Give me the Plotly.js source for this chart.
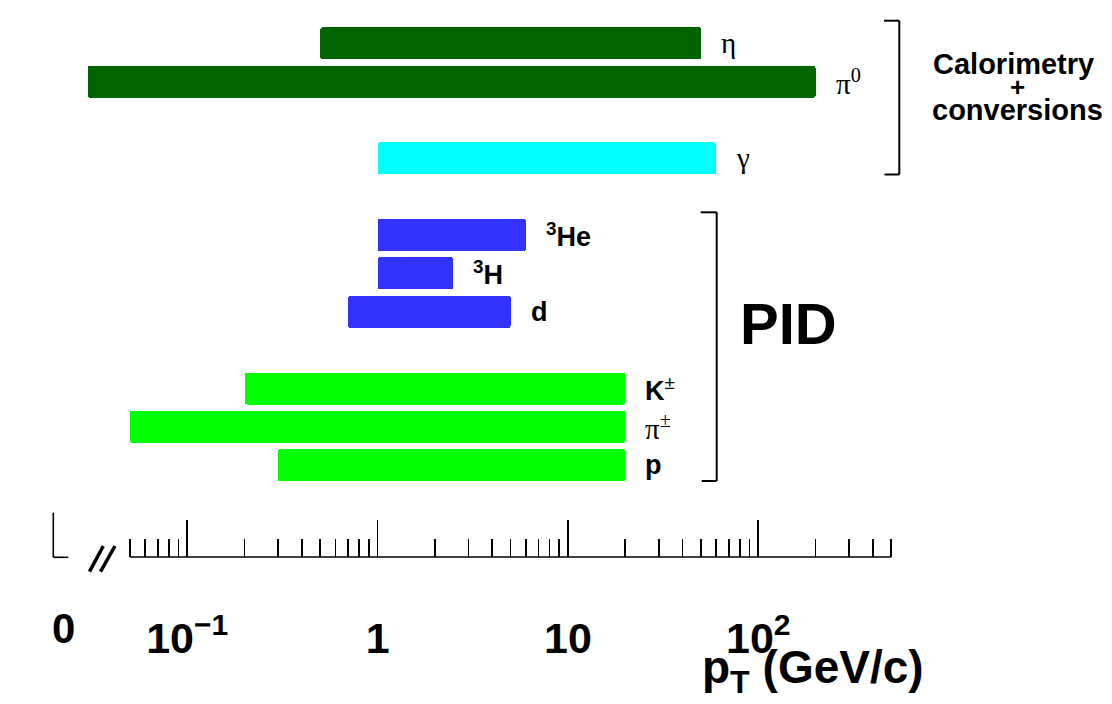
<!DOCTYPE html>
<html>
<head>
<meta charset="utf-8">
<script src="https://cdn.plot.ly/plotly-3.0.1.min.js"></script>
<style>html,body{margin:0;padding:0;background:#fff;}#chart{width:1112px;height:704px;}</style>
</head>
<body>
<div id="chart"></div>
<script>
// ---- data ----
const particles = ['η', 'π0', 'γ', '3He', '3H', 'd', 'K±', 'π±', 'p'];
const ptMin = [0.5, 0.03, 1, 1, 1, 0.7, 0.2, 0.05, 0.3];
const ptMax = [50, 200, 60, 6, 2.5, 5, 20, 20, 20];
const kind = ['meson', 'meson', 'photon', 'nucleus', 'nucleus', 'nucleus', 'hadron', 'hadron', 'hadron'];
const particleLabels = ['η', 'π<sup>0</sup>', 'γ', '<b><sup>3</sup>He</b>', '<b><sup>3</sup>H</b>', '<b>d</b>', '<b>K</b><sup>±</sup>', 'π<sup>±</sup>', '<b>p</b>'];
const rowOrder = ['η', 'π0', ' ', 'γ', '  ', '3He', '3H', 'd', '   ', 'K±', 'π±', 'p'];
const majorTickVals = [0.1, 1, 10, 100];
const majorTickText = ['10<sup>−1</sup>', '1', '10', '10<sup>2</sup>'];
const minorTickVals = [0.05, 0.06, 0.07, 0.08, 0.09,
  0.2, 0.3, 0.4, 0.5, 0.6, 0.7, 0.8, 0.9,
  2, 3, 4, 5, 6, 7, 8, 9,
  20, 30, 40, 50, 60, 70, 80, 90,
  200, 300, 400, 500];
const axisMin = 0.05, axisMax = 500;
const groupLabels = ['Calorimetry', '+', 'conversions'];
const pidLabel = 'PID';
const zeroLabel = '0';
const xTitle = '<b>p<sub>T</sub> (GeV/c)</b>';

// ---- styling ----
const colours = {meson: '#006400', photon: '#00ffff', nucleus: '#3333ff', hadron: '#00ff00'};
const SANS = 'Liberation Sans, Arial, Helvetica, sans-serif';
const SERIF = 'Liberation Serif, Times New Roman, serif';
const W = 1112, H = 704;
const M = {l: 40, r: 12, t: 24, b: 147};
const PW = W - M.l - M.r, PH = H - M.t - M.b;
const px = x => (x - M.l) / PW;
const py = y => (H - M.b - y) / PH;

const trace = {
  type: 'bar',
  orientation: 'h',
  y: particles,
  base: ptMin,
  x: ptMax.map((v, i) => v - ptMin[i]),
  width: 0.834,
  marker: {color: kind.map(k => colours[k]), line: {width: 0}, cornerradius: 2},
  hoverinfo: 'skip',
  showlegend: false
};

const greek = /^[ηπγ]/;
const annotations = particles.map((p, i) => ({
  x: Math.log10(ptMax[i]), y: p, xref: 'x', yref: 'y',
  text: particleLabels[i], showarrow: false,
  xanchor: 'left', yanchor: 'middle', xshift: 18,
  font: greek.test(particleLabels[i]) ? {family: SERIF, size: 29, color: '#000'}
                                       : {family: SANS, size: 27, color: '#000'}
}));
annotations.push(
  {x: px(1013), y: py(64), xref: 'paper', yref: 'paper', text: '<b>' + groupLabels[0] + '</b>', showarrow: false, xanchor: 'center', yanchor: 'middle', font: {family: SANS, size: 29, color: '#000'}},
  {x: px(1017), y: py(87), xref: 'paper', yref: 'paper', text: '<b>' + groupLabels[1] + '</b>', showarrow: false, xanchor: 'center', yanchor: 'middle', font: {family: SANS, size: 26, color: '#000'}},
  {x: px(1017), y: py(110), xref: 'paper', yref: 'paper', text: '<b>' + groupLabels[2] + '</b>', showarrow: false, xanchor: 'center', yanchor: 'middle', font: {family: SANS, size: 29, color: '#000'}},
  {x: px(788), y: py(323), xref: 'paper', yref: 'paper', text: '<b>' + pidLabel + '</b>', showarrow: false, xanchor: 'center', yanchor: 'middle', font: {family: SANS, size: 58, color: '#000'}},
  {x: px(63.5), y: py(628), xref: 'paper', yref: 'paper', text: '<b>' + zeroLabel + '</b>', showarrow: false, xanchor: 'center', yanchor: 'middle', font: {family: SANS, size: 42, color: '#000'}},
  {x: px(700), y: py(670), xref: 'paper', yref: 'paper', text: xTitle, showarrow: false, xanchor: 'left', yanchor: 'middle', font: {family: SANS, size: 46, color: '#000'}}
);

const line = (x0, y0, x1, y1, w) => ({type: 'line', xref: 'paper', yref: 'paper', x0: px(x0), y0: py(y0), x1: px(x1), y1: py(y1), line: {color: '#000', width: w || 1.6}});
const shapes = [
  // axis line over the log range
  {type: 'line', xref: 'x', yref: 'paper', x0: axisMin, x1: axisMax, y0: 0, y1: 0, line: {color: '#000', width: 1.6}},
  // zero marker
  line(53.3, 512.7, 53.3, 557.3), line(53.3, 557.3, 68.3, 557.3),
  // axis break
  line(89.5, 571.7, 103.3, 546, 3.5), line(100.5, 571.7, 115, 546, 3.5),
  // calorimetry bracket
  line(884, 20.7, 899.3, 20.7, 2), line(899.3, 20.7, 899.3, 174.5, 2), line(884.5, 174.5, 899.3, 174.5, 2),
  // PID bracket
  line(700.7, 212.3, 716.7, 212.3, 2), line(716.7, 212.3, 716.7, 481, 2), line(701.7, 481, 716.7, 481, 2)
];

const logAt = x => (x - 377.6) / 190.33;
const layout = {
  width: W, height: H,
  margin: M,
  paper_bgcolor: '#fff', plot_bgcolor: '#fff',
  bargap: 0,
  xaxis: {
    type: 'log',
    range: [logAt(M.l), logAt(W - M.r)],
    showgrid: false, zeroline: false, showline: false,
    tickmode: 'array', tickvals: majorTickVals, ticktext: majorTickText,
    ticks: 'inside', ticklen: 37, tickwidth: 1.6, tickcolor: '#000',
    ticklabelstandoff: 52,
    tickfont: {family: SANS, size: 43, color: '#000', weight: 'bold'},
    minor: {tickmode: 'array', tickvals: minorTickVals, ticks: 'inside', ticklen: 18, tickwidth: 1.6, tickcolor: '#000', showgrid: false},
    fixedrange: true
  },
  yaxis: {
    type: 'category', categoryorder: 'array', categoryarray: rowOrder,
    range: [13.392, -0.503],
    showgrid: false, zeroline: false, showline: false, showticklabels: false, ticks: '',
    fixedrange: true
  },
  annotations: annotations,
  shapes: shapes,
  showlegend: false
};

Plotly.newPlot('chart', [trace], layout, {displayModeBar: false, staticPlot: true});
</script>
</body>
</html>
